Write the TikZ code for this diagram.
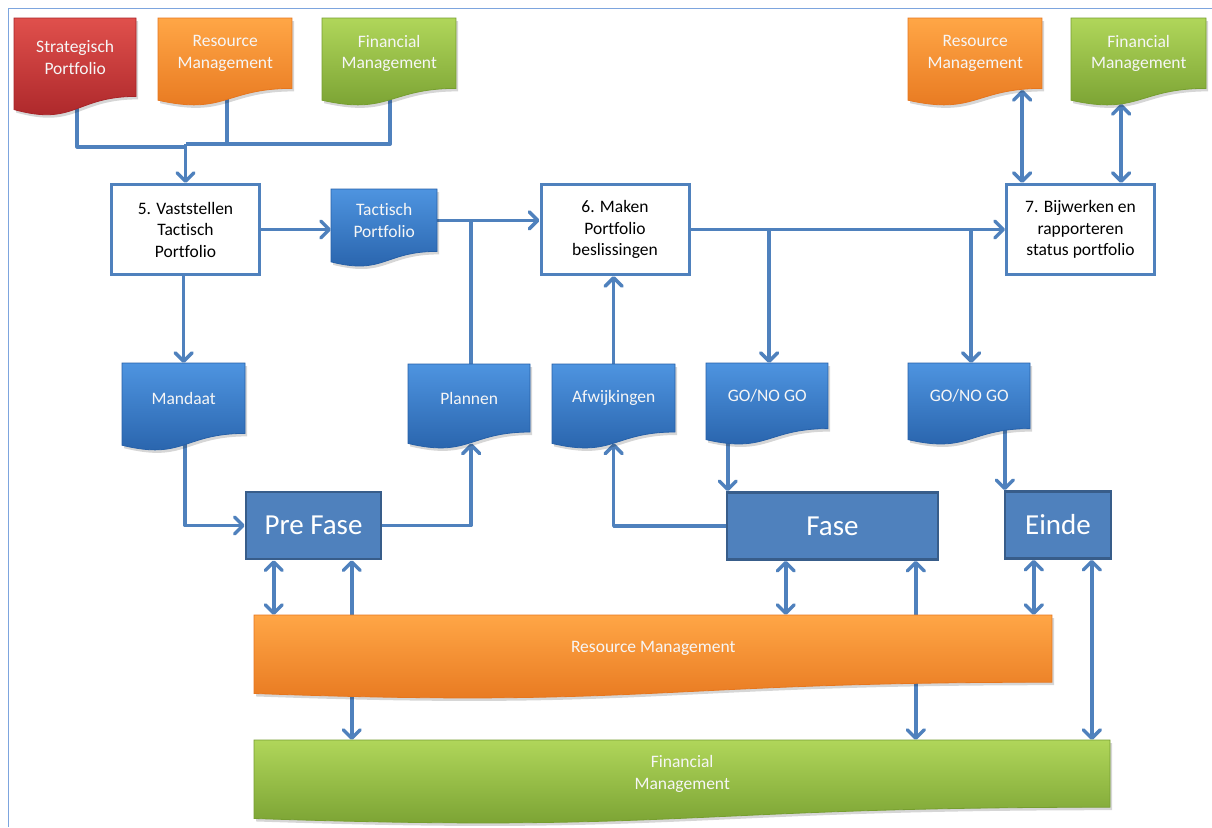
\documentclass[tikz,border=0pt]{standalone}
\usepackage{fontspec}
\setmainfont{Carlito}[Ligatures=NoCommon]
\usetikzlibrary{arrows.meta}

\definecolor{conncol}{RGB}{79,129,189}
\definecolor{framecol}{RGB}{125,165,222}
\definecolor{phasefill}{RGB}{79,129,189}
\definecolor{phasedraw}{RGB}{56,93,138}
\definecolor{redA}{RGB}{224,80,76}
\definecolor{redB}{RGB}{168,36,40}
\definecolor{orgA}{RGB}{255,166,70}
\definecolor{orgB}{RGB}{230,118,30}
\definecolor{grnA}{RGB}{176,214,90}
\definecolor{grnB}{RGB}{118,158,48}
\definecolor{bluA}{RGB}{78,148,224}
\definecolor{bluB}{RGB}{38,96,168}
\definecolor{txtlight}{RGB}{246,246,246}

\pgfdeclarelayer{paper}
\pgfdeclarelayer{bg}
\pgfsetlayers{paper,bg,main}

% document shape with wavy bottom: #1 name, #2 x, #3 y, #4 width, #5 height, #6 fill style, #7 text
\newcommand\docnode[7]{%
  \path[fill=black, opacity=.16, shift={(2,3)}]
    (#2,#3) -- ({#2+#4},#3) -- ({#2+#4},{#3+0.8*#5})
    .. controls ({#2+0.5*#4},{#3+0.8*#5}) and ({#2+0.5*#4},{#3+1.1075*#5}) .. (#2,{#3+0.934*#5}) -- cycle;
  \path[#6]
    (#2,#3) -- ({#2+#4},#3) -- ({#2+#4},{#3+0.8*#5})
    .. controls ({#2+0.5*#4},{#3+0.8*#5}) and ({#2+0.5*#4},{#3+1.1075*#5}) .. (#2,{#3+0.934*#5}) -- cycle;
  \node[doctext, minimum width=#4, minimum height=0.8*#5, anchor=north west] (#1) at (#2,#3) {#7};
}

\begin{document}
\begin{tikzpicture}[x=1pt, y=-1pt,
  doctext/.style={inner sep=0pt, align=center, text=txtlight,
    font=\fontsize{17.5}{21.5}\selectfont},
  docred/.style={top color=redA, bottom color=redB, draw=redB, line width=.8pt},
  docorange/.style={top color=orgA, bottom color=orgB, draw=orgB, line width=.8pt},
  docgreen/.style={top color=grnA, bottom color=grnB, draw=grnB, line width=.8pt},
  docblue/.style={top color=bluA, bottom color=bluB, draw=bluB, line width=.8pt},
  procbox/.style={draw=conncol, line width=3pt, fill=white, align=center,
    minimum width=148pt, minimum height=90pt, inner sep=2pt,
    font=\fontsize{17.5}{21.5}\selectfont},
  phasebox/.style={draw=phasedraw, line width=2.5pt, fill=phasefill, text=white,
    minimum height=67pt, inner sep=0pt, font=\fontsize{29}{32}\selectfont},
  conn/.style={draw=conncol, line width=3.5pt, line join=round},
  arr/.style={conn, -{Straight Barb[length=8.5pt, width=17pt, round]}},
  darr/.style={conn, {Straight Barb[length=8.5pt, width=17pt, round]}-{Straight Barb[length=8.5pt, width=17pt, round]}},
]
\useasboundingbox (0,0) rectangle (1212,827);
\begin{pgfonlayer}{paper}
  \fill[white] (0,0) rectangle (1212,827);
  % outer frame
  \draw[framecol, line width=1pt] (8,827) -- (8,8) -- (1212,8);
\end{pgfonlayer}

% documents in the top row
\docnode{strat}{14}{18}{122}{98}{docred}{Strategisch\\Portfolio}
\docnode{resL}{158}{18}{134}{88}{docorange}{Resource\\Management}
\docnode{finL}{322}{18}{134}{88}{docgreen}{Financial\\Management}
\docnode{resR}{908}{18}{134}{88}{docorange}{Resource\\Management}
\docnode{finR}{1071}{18}{135}{88}{docgreen}{Financial\\Management}

% process steps
\node[procbox] (box5) at (185.5,229.5) {5. Vaststellen\\Tactisch\\Portfolio};
\node[procbox] (box6) at (615,229.5) {6. Maken\\Portfolio\\beslissingen};
\node[procbox] (box7) at (1080.5,229.5) {7. Bijwerken en\\rapporteren\\status portfolio};

% intermediate documents
\docnode{tact}{331}{189}{106}{78}{docblue}{Tactisch\\Portfolio}
\docnode{mand}{122}{363}{123}{88}{docblue}{Mandaat}
\docnode{plan}{408}{364}{122}{85}{docblue}{Plannen}
\docnode{afw}{552}{364}{123}{85}{docblue}{Afwijkingen}
\docnode{go1}{706}{363}{122}{82}{docblue}{GO/NO GO}
\docnode{go2}{908}{363}{122}{82}{docblue}{GO/NO GO}

% project phases
\node[phasebox, minimum width=135pt] (prefase) at (313.5,525.5) {Pre Fase};
\node[phasebox, minimum width=211pt] (fase) at (832.5,526) {Fase};
\node[phasebox, minimum width=106pt] (einde) at (1058,525) {Einde};

% supporting processes
\docnode{resB}{254}{615}{798}{84}{docorange}{Resource Management}
\docnode{finB}{254}{740}{856}{84}{docgreen}{Financial\\Management}

\begin{pgfonlayer}{bg}
  % inputs of step 5
  \coordinate (merge) at (185.5,144);
  \draw[conn] ([xshift=2pt]strat.center) |- ([yshift=-3pt]merge);
  \draw[conn] ([xshift=2pt]resL.center) -- ([xshift=2pt]resL.center |- merge);
  \draw[conn] ([xshift=1pt]finL.center) |- (merge);
  \draw[arr] (merge) -- (box5.north);

  % main flow
  \draw[arr] (box5.east) -- (box5.east -| tact.west);
  \draw[arr] (tact.east) -- (tact.east -| box6.west);
  \draw[conn] ([xshift=2pt]plan.north) -- ([xshift=2pt]plan.north |- tact.east);
  \draw[arr] (box6.east) -- (box7.west);
  \draw[arr] ([xshift=2pt]go1.north |- box6.east) -- ([xshift=2pt]go1.north);
  \draw[arr] ([xshift=2pt]go2.north |- box6.east) -- ([xshift=2pt]go2.north);
  \draw[arr] (afw.north) -- (afw.north |- box6.south);

  % step 7 exchanges
  \draw[darr] ([xshift=47pt,yshift=-1pt]resR.south) -- ([xshift=47pt]resR.south |- box7.north);
  \draw[darr] ([xshift=-17.5pt,yshift=-15pt]finR.south) -- ([xshift=-17.5pt]finR.south |- box7.north);

  % mandate and phases
  \draw[arr] (mand.north |- box5.south) -- (mand.north);
  \draw[arr] ([xshift=1.5pt]mand.center) |- (prefase.west);
  \draw[arr] (prefase.east) -| ([xshift=2pt,yshift=-11pt]plan.south);
  \draw[arr] (fase.west) -| ([yshift=-11pt]afw.south);
  \draw[arr] ([xshift=2pt]fase.north west |- go1.center) -- ([xshift=2pt]fase.north west);
  \draw[arr] ([xshift=1pt]einde.north west |- go2.center) -- ([xshift=1pt]einde.north west);

  % links to resource and financial management
  \draw[darr] ([xshift=29pt]prefase.south west) -- ([xshift=29pt]prefase.south west |- resB.north);
  \draw[darr] ([xshift=107pt]prefase.south west) -- ([xshift=107pt]prefase.south west |- finB.north);
  \draw[darr] ([xshift=60pt]fase.south west) -- ([xshift=60pt]fase.south west |- resB.north);
  \draw[darr] ([xshift=190pt]fase.south west) -- ([xshift=190pt]fase.south west |- finB.north);
  \draw[darr] ([xshift=30pt]einde.south west) -- ([xshift=30pt]einde.south west |- resB.north);
  \draw[darr] ([xshift=88pt]einde.south west) -- ([xshift=88pt]einde.south west |- finB.north);
\end{pgfonlayer}
\end{tikzpicture}
\end{document}
